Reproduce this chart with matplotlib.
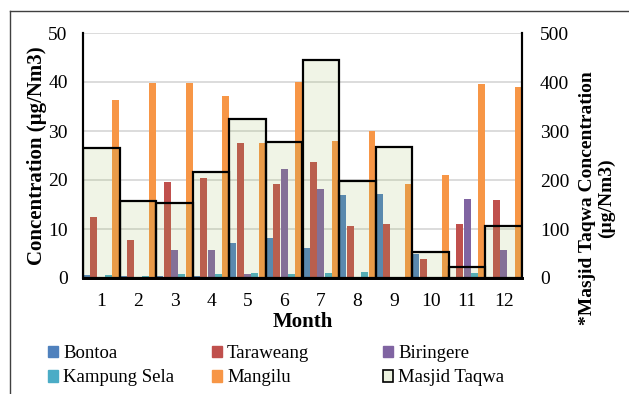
import numpy as np
import matplotlib.pyplot as plt
from matplotlib.lines import Line2D
from matplotlib.patches import Patch

plt.rcParams['font.family'] = ['Liberation Serif', 'DejaVu Serif']

months = np.arange(1, 13)
bontoa = [0.7, 0.4, 0.4, 0.5, 7.2, 8.1, 6.1, 16.9, 17.1, 4.8, 0.0, 0.0]
taraweang = [12.5, 7.8, 19.5, 20.5, 27.6, 19.1, 23.6, 10.7, 11.0, 3.9, 11.0, 15.9]
biringere = [0.0, 0.0, 5.7, 5.8, 0.8, 22.2, 18.2, 0.0, 0.0, 0.0, 16.1, 5.8]
kampung_sela = [0.55, 0.4, 0.8, 0.8, 1.0, 0.8, 1.0, 1.3, 0.0, 0.0, 1.0, 0.3]
mangilu = [36.3, 39.7, 39.7, 37.1, 27.6, 40.1, 28.0, 30.1, 19.1, 21.0, 39.6, 38.9]
masjid_taqwa = [266, 157, 154, 216, 324, 277, 445, 197, 267, 54, 22, 107]

series = [('Bontoa', bontoa, '#4F81BD'),
          ('Taraweang', taraweang, '#C0504D'),
          ('Biringere', biringere, '#8064A2'),
          ('Kampung Sela', kampung_sela, '#4BACC6'),
          ('Mangilu', mangilu, '#F79646')]

fig = plt.figure(figsize=(6.29, 3.94), dpi=100)
ax = fig.add_axes([83/629, 1-278/394, (522-83)/629, (278-33)/394])

w = 0.2
for i, (name, vals, col) in enumerate(series):
    ax.bar(months + (i - 2) * w, vals, width=w*0.95, color=col, label=name, zorder=2)

ax.set_xlim(0.5, 12.5)
ax.set_ylim(0, 50)
ax.set_yticks(range(0, 51, 10))
ax.set_xticks(months)
ax.yaxis.grid(True, color='#D9D9D9', lw=1.3)
ax.set_axisbelow(True)
ax.tick_params(length=0, labelsize=14)
ax.tick_params(axis='x', pad=11)
ax.tick_params(axis='y', pad=11)
ax.spines['top'].set_visible(False)
ax.spines['left'].set_linewidth(1.5)
ax.spines['right'].set_linewidth(1.5)
ax.spines['bottom'].set_linewidth(2)
ax.set_xlabel('Month', fontsize=15, fontweight='bold', labelpad=1.5)
ax.set_ylabel('Concentration (µg/Nm3)', fontsize=15, fontweight='bold', labelpad=1)

# Masjid Taqwa on the right axis, wide translucent boxes over the other bars
ax2 = ax.twinx()
ax2.bar(months, masjid_taqwa, width=1.0, facecolor=(0.608, 0.733, 0.349, 0.15),
        edgecolor='black', lw=1.6, label='Masjid Taqwa', zorder=3)
ax2.set_ylim(0, 500)
ax2.set_yticks(range(0, 501, 100))
ax2.tick_params(length=0, labelsize=14, pad=13)
ax2.spines['top'].set_visible(False)
ax2.spines['right'].set_linewidth(1.5)
ax2.spines['left'].set_linewidth(1.5)
ax2.spines['bottom'].set_linewidth(2)

fig.text(597/629, 1-198/394, '*Masjid Taqwa Concentration\n(µg/Nm3)', rotation=90,
         ha='center', va='center', ma='center', fontsize=14, fontweight='bold',
         linespacing=1.1)

# legend, one column at a time so the columns sit where they do in the original
h = [Patch(color=c) for _, _, c in series]
h.append(Patch(facecolor='#EBF1DE', edgecolor='black', lw=1.2))
names = [n for n, _, _ in series] + ['Masjid Taqwa']
cols = [(48, [0, 3]), (212, [1, 4]), (383, [2, 5])]
for x0, idx in cols:
    fig.legend([h[k] for k in idx], [names[k] for k in idx],
               loc='upper left', bbox_to_anchor=(x0/629, 1-345/394),
               frameon=False, fontsize=13.5, borderaxespad=0, borderpad=0,
               handlelength=0.55, handleheight=0.55, handletextpad=0.25,
               labelspacing=0.4)

# outer chart border
fig.add_artist(Line2D([10/629, 10/629], [0, 1-11/394], color='#404040', lw=1))
fig.add_artist(Line2D([10/629, 1], [1-11/394, 1-11/394], color='#404040', lw=1))

fig.savefig('out.png', dpi=100)
